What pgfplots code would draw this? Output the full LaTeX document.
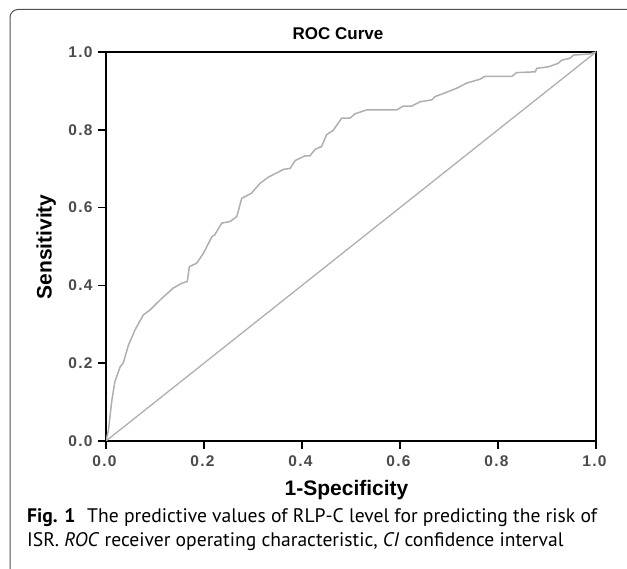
\documentclass[border=0pt]{standalone}
\usepackage{fontspec}
\setmainfont{Liberation Sans}
\newfontfamily\capfont{PT Sans}
\newfontfamily\tickfont[LetterSpace=8]{Liberation Sans}
\usepackage{pgfplots}
\pgfplotsset{compat=1.18}
\definecolor{curvegray}{RGB}{175,175,175}
\definecolor{framegray}{RGB}{80,80,80}
\definecolor{tickgray}{RGB}{75,75,75}
\begin{document}
\begin{tikzpicture}[x=1pt,y=1pt]
\useasboundingbox (0,0) rectangle (627,569);
\draw[framegray, line width=1pt] (627,559.5) -- (18,559.5) arc[start angle=90,end angle=180,radius=8] -- (10,0);
\begin{axis}[at={(106pt,128pt)}, anchor=south west, scale only axis,
  width=490pt, height=389pt, xmin=0, xmax=1, ymin=0, ymax=1,
  axis line style={line width=2.4pt, black},
  tick align=outside, major tick length=8pt,
  xtick pos=left, ytick pos=left,
  xtick={0,0.2,0.4,0.6,0.8,1}, ytick={0,0.2,0.4,0.6,0.8,1},
  tick style={line width=1.6pt, black},
  /pgf/number format/assume math mode=true,
  /pgf/number format/.cd, fixed, fixed zerofill, precision=1, /pgfplots/.cd,
  tick label style={font=\tickfont\bfseries\fontsize{15.5}{15.5}\selectfont, text=tickgray},
  xticklabel style={yshift=-3pt, xshift=-1.5pt},
  yticklabel style={xshift=-2pt},
]
\addplot[curvegray, line width=1.5pt] coordinates {
(0,0) (0.005,0.028) (0.012,0.105) (0.018,0.152) (0.029,0.191) (0.035,0.200)
(0.046,0.247) (0.059,0.285) (0.076,0.324) (0.090,0.337) (0.110,0.362)
(0.137,0.393) (0.154,0.405) (0.166,0.410) (0.170,0.448) (0.185,0.457)
(0.199,0.483) (0.216,0.525) (0.222,0.530) (0.236,0.560) (0.253,0.564)
(0.267,0.577) (0.277,0.624) (0.297,0.637) (0.314,0.662) (0.331,0.678)
(0.362,0.698) (0.376,0.701) (0.386,0.721) (0.406,0.733) (0.416,0.733)
(0.427,0.750) (0.440,0.757) (0.450,0.787) (0.464,0.799) (0.481,0.830)
(0.498,0.830) (0.508,0.841) (0.532,0.851) (0.593,0.851) (0.607,0.861)
(0.624,0.861) (0.641,0.872) (0.665,0.877) (0.671,0.885) (0.692,0.895)
(0.716,0.907) (0.736,0.920) (0.763,0.930) (0.773,0.937) (0.828,0.937)
(0.838,0.947) (0.876,0.949) (0.879,0.958) (0.903,0.962) (0.923,0.971)
(0.930,0.979) (0.947,0.984) (0.954,0.992) (0.988,0.995) (1,1)
};
\addplot[curvegray, line width=1.3pt] coordinates {(0,0) (1,1)};
\end{axis}
\node[font=\bfseries\fontsize{17}{17}\selectfont, anchor=base] at (338,529) {ROC Curve};
\node[font=\bfseries\fontsize{21}{21}\selectfont, anchor=base] at (346.5,73) {1-Specificity};
\node[font=\bfseries\fontsize{21}{21}\selectfont, anchor=base, rotate=90] at (51.7,322) {Sensitivity};
\node[anchor=base west, inner sep=0, font=\capfont\fontsize{19.6}{19.6}\selectfont] at (27,46) {\textbf{Fig. 1}\hspace{0.6em}The predictive values of RLP-C level for predicting the risk of};
\node[anchor=base west, inner sep=0, font=\capfont\fontsize{19.6}{19.6}\selectfont] at (27,22) {ISR. \textit{ROC} receiver operating characteristic, \textit{CI} confidence interval};
\end{tikzpicture}
\end{document}
